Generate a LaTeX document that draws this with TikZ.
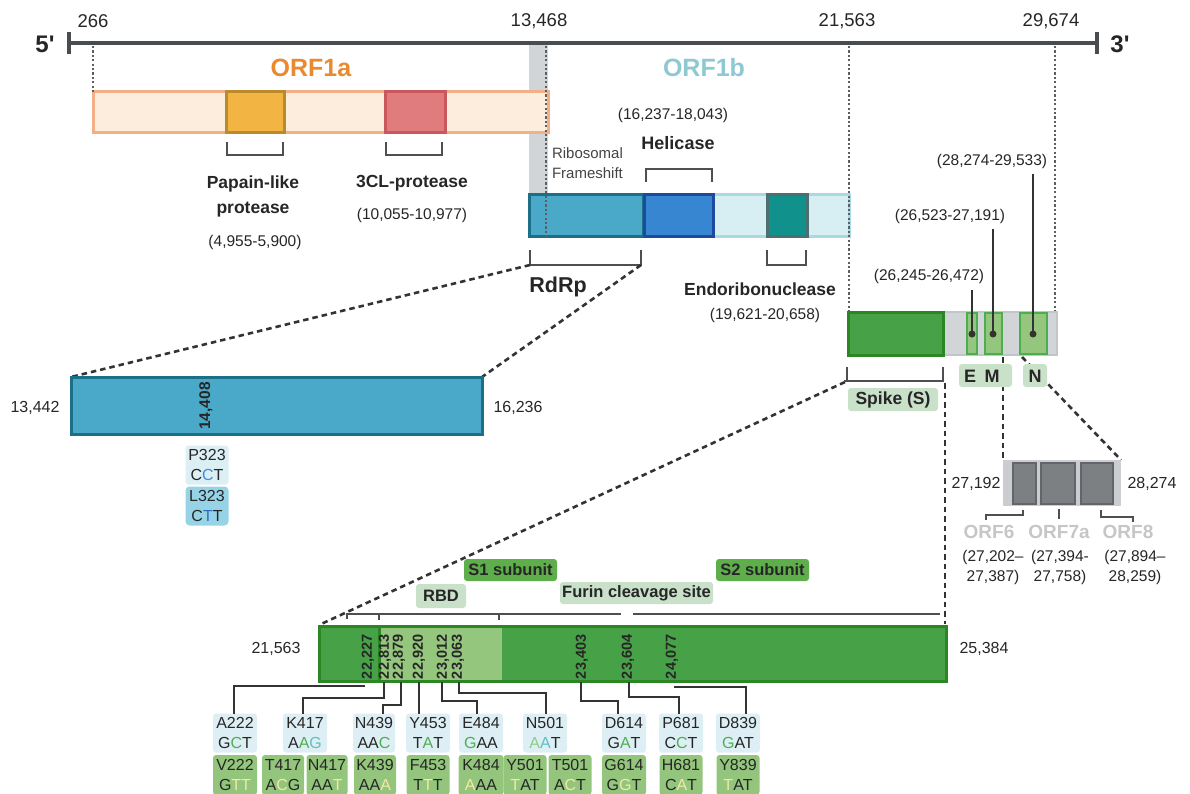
\documentclass[tikz,border=0pt]{standalone}
\usepackage{fontspec}
\setmainfont{Liberation Sans}[Ligatures=TeXOff]
\usetikzlibrary{calc}

\definecolor{ink}{HTML}{262626}
\definecolor{axisc}{HTML}{4A4D50}
\definecolor{brkc}{HTML}{4D4F52}
\definecolor{dotc}{HTML}{5C5F62}
\definecolor{dshc}{HTML}{333333}
\definecolor{orfAfill}{HTML}{FDEDDC}
\definecolor{orfAdraw}{HTML}{F2B088}
\definecolor{papfill}{HTML}{F2B443}
\definecolor{papdraw}{HTML}{BA8B2A}
\definecolor{clfill}{HTML}{E07C7E}
\definecolor{cldraw}{HTML}{C9585D}
\definecolor{orfAtext}{HTML}{E98A30}
\definecolor{orfBtext}{HTML}{8DC9D3}
\definecolor{orfBfill}{HTML}{D7EEF3}
\definecolor{orfBdraw}{HTML}{AAD9E2}
\definecolor{rdfill}{HTML}{4AA9C9}
\definecolor{rddraw}{HTML}{1B6F87}
\definecolor{helfill}{HTML}{3686D2}
\definecolor{heldraw}{HTML}{1E4A9D}
\definecolor{endfill}{HTML}{10918B}
\definecolor{enddraw}{HTML}{4D6F70}
\definecolor{band}{HTML}{D2D5D8}
\definecolor{spkfill}{HTML}{47A146}
\definecolor{spkdraw}{HTML}{2C8624}
\definecolor{lgfill}{HTML}{95C67D}
\definecolor{lgdraw}{HTML}{4CAE4E}
\definecolor{graybar}{HTML}{D2D5D8}
\definecolor{graybard}{HTML}{C3C6C9}
\definecolor{orfgfill}{HTML}{7C8083}
\definecolor{orfgdraw}{HTML}{62666A}
\definecolor{orfbg}{HTML}{CBCDD0}
\definecolor{orflbl}{HTML}{C6C6C6}
\definecolor{tagbg}{HTML}{C9E0C9}
\definecolor{tagdark}{HTML}{5EAF4C}
\definecolor{mutTop}{HTML}{DDEFF4}
\definecolor{mutBot}{HTML}{93C57C}
\definecolor{mgreen}{HTML}{4DAF4F}
\definecolor{mteal}{HTML}{5FBFC4}
\definecolor{mlight}{HTML}{8FCC88}
\definecolor{myel}{HTML}{F1E9A4}
\definecolor{pblue}{HTML}{3B8EDC}
\definecolor{lblue}{HTML}{2E6EC3}
\definecolor{pbg}{HTML}{DCEFF5}
\definecolor{lbg}{HTML}{97D3E6}
\definecolor{ribc}{HTML}{444444}

\newcommand\gbox[6]{\node[#2,anchor=north west,minimum width={(#5)-(#3)},minimum height={(#6)-(#4)}] (#1) at (#3,#4) {};}
\newcommand\gtag[7]{\node[#2,anchor=north west,minimum width={(#5)-(#3)},minimum height={(#6)-(#4)}] (#1) at (#3,#4) {#7};}
\newcommand\hc[2]{\textcolor{#1}{#2}}

\tikzset{
  every node/.style={inner sep=0pt,outer sep=0pt,text=ink},
  axisline/.style={draw=axisc,line width=3.3pt},
  brk/.style={draw=brkc,line width=2.3pt},
  dotl/.style={draw=dotc,line width=2.2pt,dash pattern=on 2.2pt off 2.2pt},
  dsh/.style={draw=dshc,line width=2.6pt,dash pattern=on 5.5pt off 4pt},
  conn/.style={draw=dshc,line width=2.2pt},
  pin/.style={draw=dshc,line width=1.8pt},
  numl/.style={font=\fontsize{18.5}{21}\selectfont},
  coord/.style={font=\fontsize{16}{19}\selectfont},
  rng/.style={font=\fontsize{15.5}{20}\selectfont,align=center},
  lbl/.style={font=\bfseries\fontsize{17.5}{25}\selectfont,align=center},
  big/.style={font=\bfseries\fontsize{25}{28}\selectfont},
  prime/.style={font=\bfseries\fontsize{24}{26}\selectfont},
  rot/.style={rotate=90,anchor=west,font=\bfseries\fontsize{14.5}{16}\selectfont},
  orflbl/.style={font=\bfseries\fontsize{19}{22}\selectfont,text=orflbl},
  tag/.style={rounded corners=3pt,font=\bfseries\fontsize{16.5}{19}\selectfont},
  letter/.style={font=\bfseries\fontsize{18}{20}\selectfont},
  mtop/.style={fill=mutTop,rounded corners=3pt,minimum width=44,minimum height=39,
    align=center,font=\fontsize{16}{20}\selectfont},
  mbot/.style={fill=mutBot,rounded corners=3pt,minimum width=43,minimum height=40,
    align=center,font=\fontsize{16}{20}\selectfont},
}

\begin{document}
\begin{tikzpicture}[x=1pt,y=-1pt]
\useasboundingbox (0,0) rectangle (1190,794);

% ---------------- genome axis ----------------
\coordinate (g5) at (69,43);
\coordinate (g3) at (1097,43);
\draw[axisline] (g5) -- (g3);
\draw[axisline] ([yshift=11pt]g5) -- ([yshift=-11pt]g5);
\draw[axisline] ([yshift=11pt]g3) -- ([yshift=-11pt]g3);
\node[prime] (five) at (45,44) {5'};
\node[prime] (three) at (1120,44) {3'};
\node[numl] (n266) at (93,21) {266};
\node[numl] (n13468) at (539,21) {13,468};
\node[numl] (n21563) at (847,21) {21,563};
\node[numl] (n29674) at (1051,21) {29,674};

% frameshift band
\fill[band] (529,45) rectangle (548,194);

% ---------------- ORF1a ----------------
\gbox{orfA}{fill=orfAfill,draw=orfAdraw,line width=3pt}{93}{92}{548}{133}
\gbox{pap}{fill=papfill,draw=papdraw,line width=3pt}{226}{92}{284}{133}
\gbox{clp}{fill=clfill,draw=cldraw,line width=3pt}{385}{92}{445}{133}
\node[big,text=orfAtext] (orfAl) at (311,68) {ORF1a};

\draw[brk] (pap.south west) ++(1,9) -- ++(0,13) -- ++(56,0) -- ++(0,-13);
\draw[brk] (clp.south west) ++(1,9) -- ++(0,13) -- ++(56,0) -- ++(0,-13);
\node[lbl] (papl) at (253,196) {Papain-like\\protease};
\node[rng] (papr) at (255,242) {(4,955-5,900)};
\node[lbl] (cll) at (412,183) {3CL-protease};
\node[rng] (clr) at (412,215) {(10,055-10,977)};

% ---------------- ORF1b ----------------
\gbox{orfB}{fill=orfBfill,draw=orfBdraw,line width=3pt}{529}{195}{849}{237}
\gbox{rdp}{fill=rdfill,draw=rddraw,line width=3pt}{529}{195}{643}{237}
\gbox{hel}{fill=helfill,draw=heldraw,line width=3pt}{644}{195}{713}{237}
\gbox{endo}{fill=endfill,draw=enddraw,line width=3pt}{767}{195}{807}{237}
\node[big,text=orfBtext] (orfBl) at (704,68) {ORF1b};
\node[anchor=west,align=left,text=ribc,font=\fontsize{15}{19.5}\selectfont] (rib) at (552,163) {Ribosomal\\Frameshift};

\node[rng] (helr) at (673,115) {(16,237-18,043)};
\node[lbl,font=\bfseries\fontsize{18}{21}\selectfont] (hell) at (678,143) {Helicase};
\draw[brk] (hel.north west) ++(2,-13) -- ++(0,-13) -- ++(66,0) -- ++(0,13);

\draw[brk] (rdp.south west) ++(1,13) -- ++(0,15) coordinate (rbl) -- ++(111,0) coordinate (rbr) -- ++(0,-15);
\node[font=\bfseries\fontsize{21.5}{24}\selectfont] (rdrpl) at (558,287) {RdRp};
\draw[brk] (endo.south west) ++(0,13) -- ++(0,15) -- ++(39,0) -- ++(0,-15);
\node[lbl] (endl) at (760,289) {Endoribonuclease};
\node[rng] (endr) at (765,315) {(19,621-20,658)};

% ---------------- structural genes ----------------
\gbox{sbg}{fill=graybar,draw=graybard,line width=2pt}{848}{312}{1057}{355}
\gbox{spk}{fill=spkfill,draw=spkdraw,line width=3pt}{848}{312}{943}{355}
\gbox{eg}{fill=lgfill,draw=lgdraw,line width=2pt}{967}{313}{977}{354}
\gbox{mg}{fill=lgfill,draw=lgdraw,line width=2pt}{985}{313}{1002}{354}
\gbox{ng}{fill=lgfill,draw=lgdraw,line width=2pt}{1020}{313}{1047}{354}

% dotted guides from the axis
\draw[dotl] (93,46) -- (orfA.north west);
\draw[dotl] (546,46) -- (546,237);
\draw[dotl] (849,46) -- (849,311);
\draw[dotl] (1055,46) -- (1055,311);

\fill[dshc] (972,334) circle (3.5pt) coordinate (ed);
\fill[dshc] (993,334) circle (3.5pt) coordinate (md);
\fill[dshc] (1033,334) circle (3.5pt) coordinate (nd);
\draw[pin] (ed) -- ++(0,-44);
\draw[pin] (md) -- ++(0,-105);
\draw[pin] (nd) -- ++(0,-160);
\node[rng] (er) at (929,276) {(26,245-26,472)};
\node[rng] (mr) at (950,216) {(26,523-27,191)};
\node[rng] (nr) at (992,161) {(28,274-29,533)};

% dashed zoom lines
\draw[dsh] (rbl) -- (71,377) coordinate (rzl);
\draw[dsh] (rbr) -- (482,377) coordinate (rzr);
\draw[dsh] (845,382) -- (319,625);
\draw[dsh] (945,383) -- (945,624);
\draw[dsh] (1003,357) -- (1003,460);
\draw[dsh] (1022,357) -- (1121,460);

\draw[brk] (844,381) -- (943,381) -- (943,367);
\draw[brk] (847,381) -- (847,367);
\gtag{spkl}{tag,fill=tagbg,font=\bfseries\fontsize{17.5}{20}\selectfont}{848}{388}{938}{411}{Spike (S)}
\gtag{eml}{tag,fill=tagbg}{959}{364}{1012}{387}{}
\node[letter] (el) at (970,376) {E};
\node[letter] (ml) at (992,376) {M};
\gtag{nl}{tag,fill=tagbg}{1023}{364}{1047}{387}{}
\node[letter] (nlt) at (1035,376) {N};

% ---------------- RdRp detail ----------------
\gbox{rz}{fill=rdfill,draw=rddraw,line width=3pt}{71}{377}{482}{434}
\node[coord] (rza) at (35,408) {13,442};
\node[coord] (rzb) at (518,408) {16,236};
\node[rot,anchor=center,font=\bfseries\fontsize{15.5}{17}\selectfont] (r14408) at (206,406) {14,408};
\node[mtop,fill=pbg,minimum width=43,minimum height=39] (p323) at (207,465) {P323\\C\hc{pblue}{C}T};
\node[mtop,fill=lbg,minimum width=43,minimum height=39,rounded corners=4pt] (l323) at (207,506) {L323\\C\hc{lblue}{T}T};

% ---------------- ORF6 - ORF8 detail ----------------
\gbox{obg}{fill=orfbg}{1003}{460}{1121}{506}
\gbox{o6}{fill=orfgfill,draw=orfgdraw,line width=2.2pt}{1013}{463}{1036}{504}
\gbox{o7}{fill=orfgfill,draw=orfgdraw,line width=2.2pt}{1041}{463}{1075}{504}
\gbox{o8}{fill=orfgfill,draw=orfgdraw,line width=2.2pt}{1081}{463}{1113}{504}
\node[coord] (oa) at (976,484) {27,192};
\node[coord] (ob) at (1152,484) {28,274};
\draw[brk] (986,520) -- (986,515) -- (1023,515) -- (1023,510);
\draw[brk] (1059,509) -- (1059,519);
\draw[brk] (1101,510) -- (1101,517) -- (1133,517) -- (1133,522);
\node[orflbl] (o6l) at (989,532) {ORF6};
\node[orflbl] (o7l) at (1059,532) {ORF7a};
\node[orflbl] (o8l) at (1128,532) {ORF8};
\node[rng] (o6r) at (993,567) {(27,202–\\27,387)};
\node[rng] (o7r) at (1060,567) {(27,394-\\27,758)};
\node[rng] (o8r) at (1135,567) {(27,894–\\28,259)};

% ---------------- spike detail ----------------
\gtag{s1}{tag,fill=tagdark}{464}{559}{557}{581}{S1 subunit}
\gtag{rbd}{tag,fill=tagbg}{416}{584}{466}{608}{RBD}
\gtag{fur}{tag,fill=tagbg}{560}{582}{713}{604}{Furin cleavage site}
\gtag{s2}{tag,fill=tagdark}{716}{559}{809}{581}{S2 subunit}
\draw[brk] (347,619) -- (347,614) -- (621,614);
\draw[brk] (379,614) -- (379,620);
\draw[brk] (499,614) -- (499,620);
\draw[brk] (633,614) -- (940,614);

\gbox{sbar}{fill=spkfill}{319}{626}{946}{681}
\fill[lgfill] (379,627) rectangle (502,680);
\draw[spkdraw,line width=3pt] (379,626) -- (379,681);
\draw[spkdraw,line width=3pt] (sbar.north west) rectangle (sbar.south east);
\node[coord] (sa) at (276,649) {21,563};
\node[coord] (sb) at (984,649) {25,384};

\node[rot] (t22227) at (368,679) {22,227};
\node[rot] (t22813) at (385,679) {22,813};
\node[rot] (t22879) at (399,679) {22,879};
\node[rot] (t22920) at (419,679) {22,920};
\node[rot] (t23012) at (443,679) {23,012};
\node[rot] (t23063) at (458,679) {23,063};
\node[rot] (t23403) at (582,679) {23,403};
\node[rot] (t23604) at (628,679) {23,604};
\node[rot] (t24077) at (672,679) {24,077};

% mutation tables
\node[mtop] (mA222) at (235,733) {A222\\G\hc{mgreen}{C}T};
\node[mtop] (mK417) at (305,733) {K417\\A\hc{mgreen}{A}\hc{mteal}{G}};
\node[mtop,minimum width=42] (mN439) at (374,733) {N439\\AA\hc{mgreen}{C}};
\node[mtop] (mY453) at (428,733) {Y453\\T\hc{mgreen}{A}T};
\node[mtop] (mE484) at (481,733) {E484\\\hc{mgreen}{G}AA};
\node[mtop] (mN501) at (545,733) {N501\\\hc{mlight}{A}\hc{mteal}{A}T};
\node[mtop] (mD614) at (624,733) {D614\\G\hc{mgreen}{A}T};
\node[mtop] (mP681) at (681,733) {P681\\C\hc{mgreen}{C}T};
\node[mtop] (mD839) at (738,733) {D839\\\hc{mgreen}{G}AT};

\node[mbot,minimum width=44] (mV222) at (235,775) {V222\\G\hc{myel}{TT}};
\node[mbot,minimum width=42] (mT417) at (283,775) {T417\\A\hc{myel}{C}G};
\node[mbot,minimum width=41] (mN417) at (327,775) {N417\\AA\hc{myel}{T}};
\node[mbot,minimum width=42] (mK439) at (375,775) {K439\\AA\hc{myel}{A}};
\node[mbot] (mF453) at (428,775) {F453\\T\hc{myel}{T}T};
\node[mbot,minimum width=45] (mK484) at (481,775) {K484\\\hc{myel}{A}AA};
\node[mbot] (mY501) at (525,775) {Y501\\\hc{myel}{T}AT};
\node[mbot] (mT501) at (570,775) {T501\\A\hc{myel}{C}T};
\node[mbot,minimum width=44] (mG614) at (624,775) {G614\\G\hc{myel}{G}T};
\node[mbot] (mH681) at (681,775) {H681\\C\hc{myel}{A}T};
\node[mbot] (mY839) at (738,775) {Y839\\\hc{myel}{T}AT};

% connectors from the spike to the mutation tables
\coordinate (s222) at (365,686);
\coordinate (s417) at (384,682);
\coordinate (s439) at (401,682);
\coordinate (s453) at (419,682);
\coordinate (s484) at (442,682);
\coordinate (s501) at (459,682);
\coordinate (s614) at (581,682);
\coordinate (s681) at (629,682);
\coordinate (s839) at (674,687);
\draw[conn] (s222) -| ([xshift=-1pt]mA222.north);
\draw[conn] (s417) -- ++(0,16) -| ([xshift=-2pt]mK417.north);
\draw[conn] (s439) -- ++(0,23) -| ([xshift=9pt]mN439.north);
\draw[conn] (s453) -- (s453 |- mY453.north);
\draw[conn] (s484) -- ++(0,19) -| ([xshift=-4pt]mE484.north);
\draw[conn] (s501) -- ++(0,11) -| ([xshift=1pt]mN501.north);
\draw[conn] (s614) -- ++(0,19) -| ([xshift=-6pt]mD614.north);
\draw[conn] (s681) -- ++(0,15) -| ([xshift=-2pt]mP681.north);
\draw[conn] (s839) -| ([xshift=8pt]mD839.north);
\end{tikzpicture}
\end{document}
